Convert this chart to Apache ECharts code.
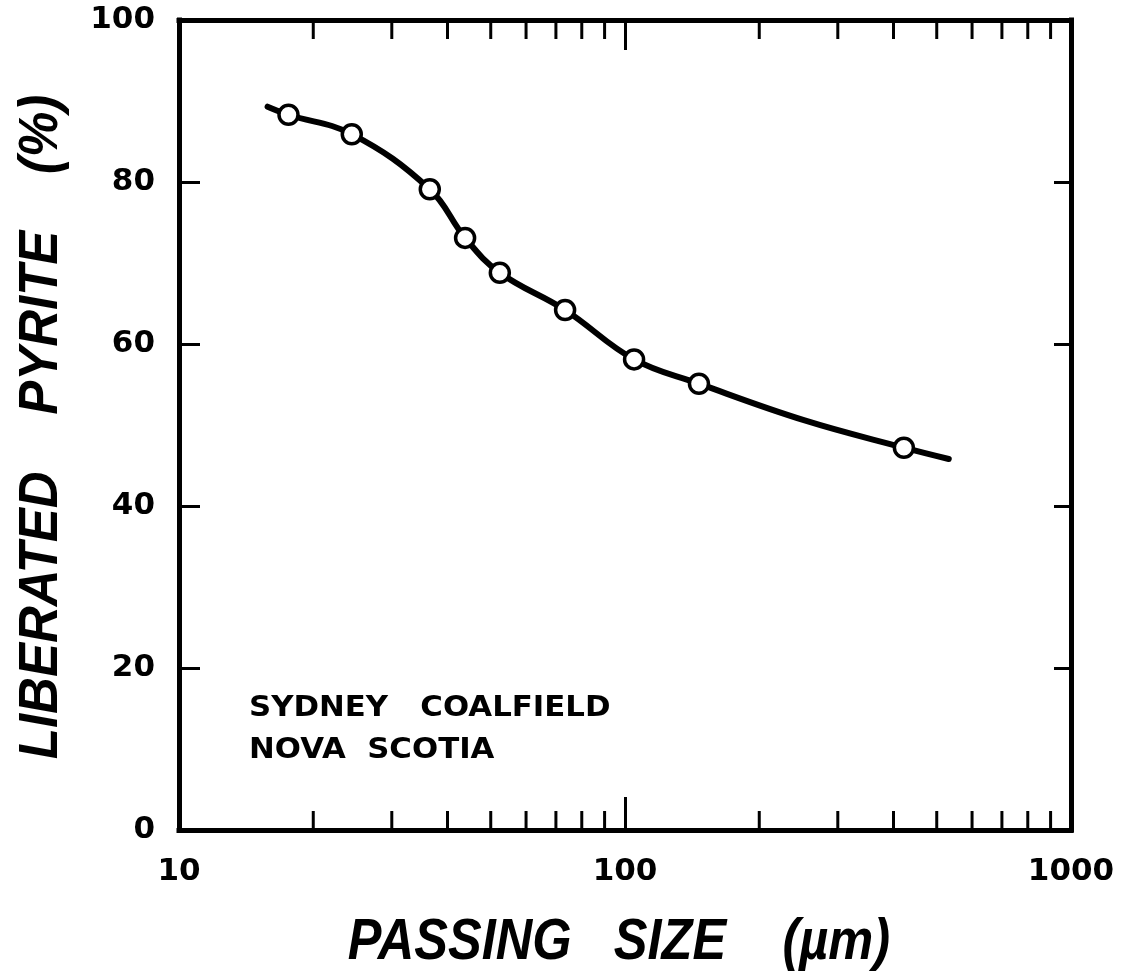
<!DOCTYPE html>
<html><head><meta charset="utf-8">
<script src="https://cdn.jsdelivr.net/npm/echarts@6/dist/echarts.min.js"></script>
<style>html,body{margin:0;padding:0;background:#fff}#c{width:1125px;height:974px}</style>
</head><body><div id="c"></div>
<script>
// measured points (passing size in µm, liberated pyrite in %)
const pointSize   = [17.6, 24.4, 36.5, 43.8, 52.4, 73.4, 104.8, 146.5, 422];
const pointPyrite = [88.3, 85.9, 79.1, 73.1, 68.8, 64.2, 58.1, 55.1, 47.2];
// fitted curve
const curveSize   = [15.8, 17.6, 24.4, 36.5, 43.8, 52.4, 73.4, 104.8, 146.5, 251.8, 422, 532];
const curvePyrite = [89.3, 88.3, 85.9, 79.1, 73.1, 68.8, 64.2, 58.1, 55.1, 50.6, 47.2, 45.8];
// axes
const xMinorTicks = [20, 30, 40, 50, 60, 70, 80, 90, 200, 300, 400, 500, 600, 700, 800, 900];
const xMin = 10, xMax = 1000;
const yMin = 0, yMax = 100, yStep = 20;
const xTitle = 'PASSING   SIZE    (\u00b5m)';
const yTitle = 'LIBERATED    PYRITE    (%)';
const noteLine1 = 'SYDNEY   COALFIELD';
const noteLine2 = 'NOVA  SCOTIA';

const chart = echarts.init(document.getElementById('c'), null, {renderer: 'canvas'});
const black = '#000';
const axisLine = {show: true, onZero: false, lineStyle: {color: black, width: 5, cap: 'square'}};
const labelFont = {color: black, fontSize: 31, fontWeight: 'bold', fontFamily: 'DejaVu Sans'};

const option = {
  backgroundColor: '#fff',
  animation: false,
  grid: {left: 179, right: 54, top: 20, bottom: 144, containLabel: false, outerBoundsMode: 'none'},
  xAxis: [
    {type: 'log', logBase: 10, min: xMin, max: xMax, position: 'bottom',
     axisLine: axisLine,
     axisTick: {show: true, inside: true, length: 33, lineStyle: {color: black, width: 3}},
     minorTick: {show: false}, splitLine: {show: false},
     axisLabel: Object.assign({margin: 26, formatter: v => String(Math.round(v))}, labelFont)},
    {type: 'log', logBase: 10, min: xMin, max: xMax, position: 'top',
     axisLine: axisLine,
     axisTick: {show: true, inside: true, length: 30, lineStyle: {color: black, width: 3}},
     minorTick: {show: false}, splitLine: {show: false},
     axisLabel: {show: false}}
  ],
  yAxis: [
    {type: 'value', min: yMin, max: yMax, interval: yStep, position: 'left',
     axisLine: axisLine,
     axisTick: {show: true, inside: true, length: 21, lineStyle: {color: black, width: 3}},
     splitLine: {show: false},
     axisLabel: Object.assign({margin: 24}, labelFont)},
    {type: 'value', min: yMin, max: yMax, interval: yStep, position: 'right',
     axisLine: axisLine,
     axisTick: {show: true, inside: true, length: 17, lineStyle: {color: black, width: 3}},
     splitLine: {show: false}, axisLabel: {show: false}}
  ],
  series: [
    {type: 'custom', xAxisIndex: 0, yAxisIndex: 0, silent: true, clip: false,
     data: xMinorTicks.map(v => [v, yMin]),
     encode: {x: 0, y: 1},
     renderItem: function (params, api) {
       const v = api.value(0);
       const b = api.coord([v, yMin]);
       const t = api.coord([v, yMax]);
       return {type: 'group', children: [
         {type: 'line', shape: {x1: b[0], y1: b[1], x2: b[0], y2: b[1] - 19}, style: {stroke: black, lineWidth: 3}},
         {type: 'line', shape: {x1: t[0], y1: t[1], x2: t[0], y2: t[1] + 19}, style: {stroke: black, lineWidth: 3}}
       ]};
     }},
    {type: 'line', smooth: 0.4, showSymbol: false, silent: true,
     data: curveSize.map((x, i) => [x, curvePyrite[i]]),
     lineStyle: {color: black, width: 6, cap: 'round'}},
    {type: 'scatter', symbol: 'circle', symbolSize: 19, silent: true,
     data: pointSize.map((x, i) => [x, pointPyrite[i]]),
     itemStyle: {color: '#fff', borderColor: black, borderWidth: 3.5, opacity: 1}, z: 5}
  ],
  graphic: [
    {type: 'text', x: 42, y: 427, rotation: Math.PI / 2, scaleX: 0.91, silent: true,
     style: {text: yTitle, fontSize: 56, fontStyle: 'italic', fontWeight: 'bold', fontFamily: 'Liberation Sans',
             fill: black, textAlign: 'center', textVerticalAlign: 'middle'}},
    {type: 'text', x: 619, y: 943, scaleX: 0.887, silent: true,
     style: {text: xTitle, fontSize: 57, fontStyle: 'italic', fontWeight: 'bold', fontFamily: 'Liberation Sans',
             fill: black, textAlign: 'center', textVerticalAlign: 'middle'}},
    {type: 'text', x: 249, y: 709, scaleX: 1.1, silent: true,
     style: {text: noteLine1, fontSize: 28, fontWeight: 'bold', fontFamily: 'DejaVu Sans', fill: black,
             textAlign: 'left', textVerticalAlign: 'middle'}},
    {type: 'text', x: 249, y: 751, scaleX: 1.1, silent: true,
     style: {text: noteLine2, fontSize: 28, fontWeight: 'bold', fontFamily: 'DejaVu Sans', fill: black,
             textAlign: 'left', textVerticalAlign: 'middle'}}
  ]
};
chart.setOption(option);
</script>
</body></html>
